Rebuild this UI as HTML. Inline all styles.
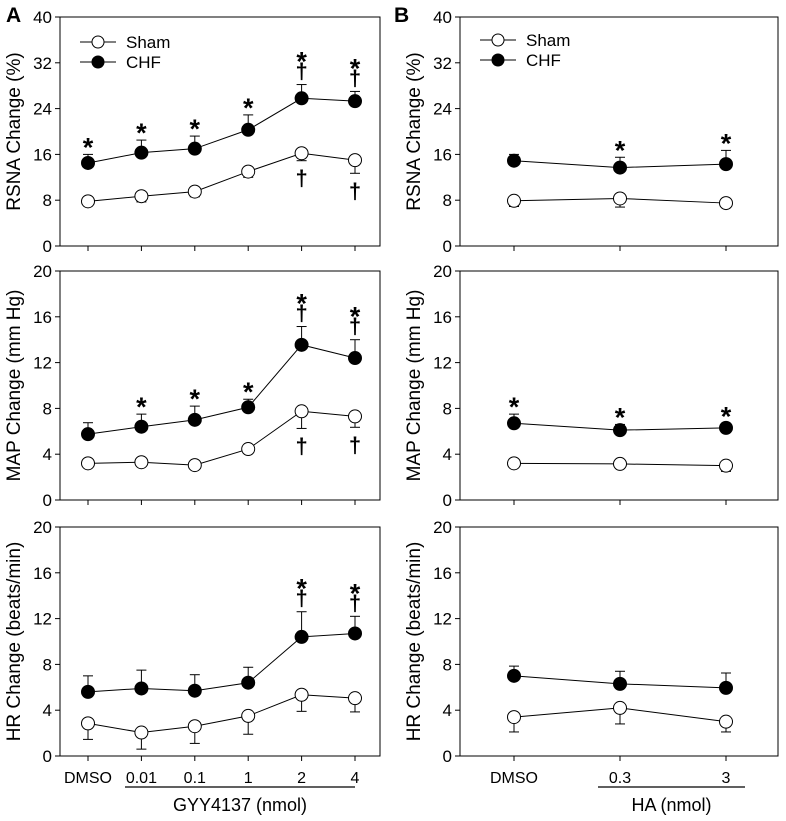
<!DOCTYPE html>
<html><head><meta charset="utf-8"><style>
body{margin:0;background:#fff}
svg text{font-family:"Liberation Sans",Arial,sans-serif;fill:#000}
</style></head><body>
<svg id="fig" width="786" height="816" viewBox="0 0 786 816" xmlns="http://www.w3.org/2000/svg">
<text x="6" y="22" font-size="21" font-weight="bold">A</text>
<text x="394" y="22" font-size="21" font-weight="bold">B</text>
</svg>
<script>
const catsA = ["DMSO","0.01","0.1","1","2","4"];
const catsB = ["DMSO","0.3","3"];
const rsnaTicks = [0,8,16,24,32,40];
const smallTicks = [0,4,8,12,16,20];
// Panel A
const aRsnaSham = [7.8,8.7,9.5,13,16.2,15];
const aRsnaShamErr = [0.8,1,0.9,1,1.3,2.3];
const aRsnaChf = [14.5,16.3,17,20.3,25.8,25.3];
const aRsnaChfErr = [1.5,2.2,2.2,2.6,2.4,1.7];
const aMapSham = [3.2,3.3,3.05,4.45,7.75,7.3];
const aMapShamErr = [0.1,0.2,0.3,0.05,1.5,0.95];
const aMapChf = [5.75,6.4,7,8.1,13.55,12.4];
const aMapChfErr = [1,1.1,1.2,0.7,1.6,1.6];
const aHrSham = [2.85,2.05,2.6,3.5,5.35,5.05];
const aHrShamErr = [1.4,1.45,1.5,1.6,1.45,1.2];
const aHrChf = [5.6,5.9,5.7,6.4,10.4,10.7];
const aHrChfErr = [1.4,1.6,1.4,1.35,2.2,1.5];
// Panel B
const bRsnaSham = [7.9,8.3,7.5];
const bRsnaShamErr = [1,1.5,0.8];
const bRsnaChf = [14.9,13.7,14.3];
const bRsnaChfErr = [1.1,1.8,2.4];
const bMapSham = [3.2,3.15,3.0];
const bMapShamErr = [0.3,0.4,0.5];
const bMapChf = [6.7,6.1,6.3];
const bMapChfErr = [0.8,0.5,0.4];
const bHrSham = [3.4,4.2,3.0];
const bHrShamErr = [1.3,1.4,0.9];
const bHrChf = [7.0,6.3,5.95];
const bHrChfErr = [0.85,1.1,1.3];
// significance marks
const aRsnaChfMarks = ["*","*","*","*","*†","*†"];
const aRsnaShamMarks = ["","","","","†","†"];
const aMapChfMarks = ["","*","*","*","*†","*†"];
const aMapShamMarks = ["","","","","†","†"];
const aHrChfMarks = ["","","","","*†","*†"];
const aHrShamMarks = ["","","","","",""];
const bRsnaChfMarks = ["","*","*"];
const bMapChfMarks = ["*","*","*"];
const bNoMarks = ["","",""];

const svg = document.getElementById('fig');
const NS = "http://www.w3.org/2000/svg";
function mk(tag, attrs, parent){const e=document.createElementNS(NS,tag);for(const k in attrs)e.setAttribute(k,attrs[k]);(parent||svg).appendChild(e);return e;}

function panel(o){
  const g = mk('g',{});
  
  
  const L=o.x0,R=o.x1,T=o.top,B=o.bot,max=o.ticks[o.ticks.length-1];
  const ys = v => B - v/max*(B-T);
  const xs = i => o.xt0 + i*o.xstep;
  const box = mk('rect',{x:L,y:T,width:R-L,height:B-T,fill:'none',stroke:'#000','stroke-width':1},g);
  
  
  o.ticks.forEach(t=>{
    mk('line',{x1:L-5,x2:L,y1:ys(t),y2:ys(t),stroke:'#000'},g);
    const tx = mk('text',{x:L-8,y:ys(t)+6,'font-size':17,'text-anchor':'end'},g);
    tx.textContent=t;
    
    
  });
  o.cats.forEach((c,i)=>mk('line',{x1:xs(i),x2:xs(i),y1:B,y2:B+5,stroke:'#000'},g));
  const yl = mk('text',{x:0,y:0,'font-size':19,'text-anchor':'middle',transform:`translate(${L-40},${(T+B)/2}) rotate(-90)`},g);
  yl.textContent=o.ylabel;
  
  
  function series(vals,errs,filled,up,marks,nm){
    const sg = mk('g',{},g);
    
    
    mk('polyline',{points:vals.map((v,i)=>xs(i)+','+ys(v)).join(' '),fill:'none',stroke:'#000','stroke-width':1},sg);
    vals.forEach((v,i)=>{
      const ye = ys(up? v+errs[i] : v-errs[i]);
      mk('line',{x1:xs(i),x2:xs(i),y1:ys(v),y2:ye,stroke:'#000'},sg);
      mk('line',{x1:xs(i)-5,x2:xs(i)+5,y1:ye,y2:ye,stroke:'#000'},sg);
    });
    vals.forEach((v,i)=>{
      const c = mk('circle',{cx:xs(i),cy:ys(v),r:6.5,fill:filled?'#000':'#fff',stroke:'#000','stroke-width':1},sg);
      
      
    });
    marks.forEach((m,i)=>{
      if(!m) return;
      const v = vals[i];
      if(up){
        const cap = ys(v+errs[i]);
        if(m.includes('†')){
          const d=mk('text',{x:xs(i),y:cap-6,'font-size':22,'font-weight':'bold','text-anchor':'middle'},sg);d.textContent='†';
          const s=mk('text',{x:xs(i),y:cap-14,'font-size':27,'font-weight':'bold','text-anchor':'middle'},sg);s.textContent='*';
        } else {
          const s=mk('text',{x:xs(i),y:cap+2,'font-size':27,'font-weight':'bold','text-anchor':'middle'},sg);s.textContent='*';
        }
      } else {
        const cap = ys(v-errs[i]);
        const d=mk('text',{x:xs(i),y:cap+25,'font-size':22,'font-weight':'bold','text-anchor':'middle'},sg);d.textContent=m;
      }
    });
  }
  series(o.sham,o.shamErr,false,false,o.shamMarks,'sham-series');
  series(o.chf,o.chfErr,true,true,o.chfMarks,'chf-series');
  if(o.legend){
    const lg = mk('g',{},g);
    
    
    [['Sham',false],['CHF',true]].forEach((e,k)=>{
      const y=o.legend.y+k*20;
      mk('line',{x1:o.legend.x,x2:o.legend.x+36,y1:y,y2:y,stroke:'#000'},lg);
      mk('circle',{cx:o.legend.x+18,cy:y,r:6,fill:e[1]?'#000':'#fff',stroke:'#000'},lg);
      const t=mk('text',{x:o.legend.x+46,y:y+6,'font-size':17},lg);t.textContent=e[0];
      
      
    });
  }
  if(o.xlabels){
    o.cats.forEach((c,i)=>{
      const t=mk('text',{x:xs(i),y:B+27,'font-size':16,'text-anchor':'middle'},g);t.textContent=c;
      
      
    });
    mk('line',{x1:o.ul[0],x2:o.ul[1],y1:B+31,y2:B+31,stroke:'#000','stroke-width':1.3},g);
    const xt=mk('text',{x:(o.ul[0]+o.ul[1])/2,y:B+55,'font-size':18,'text-anchor':'middle'},g);xt.textContent=o.xtitle;
    
    
  }
}
const A={x0:60,x1:380,xt0:88,xstep:53.4,cats:catsA};
const Bp={x0:460,x1:778,xt0:514,xstep:106,cats:catsB};
panel({...A,name:'panel-a-rsna',top:17,bot:246,ticks:rsnaTicks,ylabel:'RSNA Change (%)',sham:aRsnaSham,shamErr:aRsnaShamErr,chf:aRsnaChf,chfErr:aRsnaChfErr,shamMarks:aRsnaShamMarks,chfMarks:aRsnaChfMarks,legend:{x:80,y:42}});
panel({...A,name:'panel-a-map',top:271,bot:500,ticks:smallTicks,ylabel:'MAP Change (mm Hg)',sham:aMapSham,shamErr:aMapShamErr,chf:aMapChf,chfErr:aMapChfErr,shamMarks:aMapShamMarks,chfMarks:aMapChfMarks});
panel({...A,name:'panel-a-hr',top:527,bot:756,ticks:smallTicks,ylabel:'HR Change (beats/min)',sham:aHrSham,shamErr:aHrShamErr,chf:aHrChf,chfErr:aHrChfErr,shamMarks:aHrShamMarks,chfMarks:aHrChfMarks,xlabels:true,ul:[125,355],xtitle:'GYY4137 (nmol)'});
panel({...Bp,name:'panel-b-rsna',top:17,bot:246,ticks:rsnaTicks,ylabel:'RSNA Change (%)',sham:bRsnaSham,shamErr:bRsnaShamErr,chf:bRsnaChf,chfErr:bRsnaChfErr,shamMarks:bNoMarks,chfMarks:bRsnaChfMarks,legend:{x:480,y:40}});
panel({...Bp,name:'panel-b-map',top:271,bot:500,ticks:smallTicks,ylabel:'MAP Change (mm Hg)',sham:bMapSham,shamErr:bMapShamErr,chf:bMapChf,chfErr:bMapChfErr,shamMarks:bNoMarks,chfMarks:bMapChfMarks});
panel({...Bp,name:'panel-b-hr',top:527,bot:756,ticks:smallTicks,ylabel:'HR Change (beats/min)',sham:bHrSham,shamErr:bHrShamErr,chf:bHrChf,chfErr:bHrChfErr,shamMarks:bNoMarks,chfMarks:bNoMarks,xlabels:true,ul:[598,745],xtitle:'HA (nmol)'});
</script>
</body></html>
